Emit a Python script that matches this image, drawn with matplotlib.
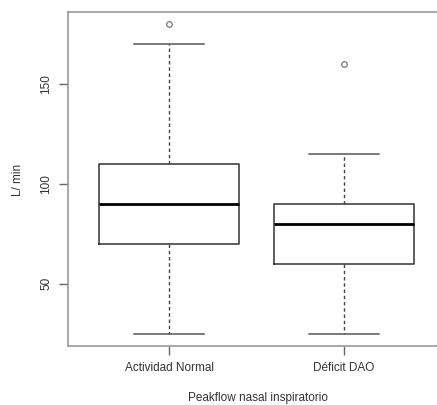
import matplotlib
matplotlib.use("Agg")
import matplotlib.pyplot as plt

# boxplot summary values (L/min)
groups = ["Actividad Normal", "Déficit DAO"]
whisker_low = [25, 25]
q1 = [70, 60]
median = [90, 80]
q3 = [110, 90]
whisker_high = [170, 115]
outliers = [[180], [160]]
yticks = [50, 100, 150]

plt.rcParams["font.family"] = ["Liberation Sans", "DejaVu Sans"]

fig = plt.figure(figsize=(4.37, 4.05), dpi=100)
# right edge of the R plot region falls just outside the image
ax = fig.add_axes([68 / 437, 59 / 405, (445 - 68) / 437, (393 - 59) / 405])

stats = []
for i in range(len(groups)):
    stats.append({
        "whislo": whisker_low[i], "q1": q1[i], "med": median[i],
        "q3": q3[i], "whishi": whisker_high[i], "fliers": outliers[i],
    })

ax.bxp(stats, positions=[1, 2], widths=0.8, showfliers=True,
       boxprops=dict(color="#333333", linewidth=1.1),
       medianprops=dict(color="black", linewidth=2.0),
       whiskerprops=dict(color="#444444", linewidth=1.0, linestyle=(0, (2.5, 2))),
       capprops=dict(color="#555555", linewidth=1.1),
       capwidths=0.4,
       flierprops=dict(marker="o", markersize=4, markerfacecolor="none",
                       markeredgecolor="#777777", markeredgewidth=0.9))

ax.set_xlim(0.42, 2.58)
ax.set_ylim(18.8, 186.2)
ax.set_yticks(yticks)
ax.set_yticklabels([str(v) for v in yticks], rotation=90, va="center")
ax.set_xticks([1, 2])
ax.set_xticklabels(groups)

for s in ax.spines.values():
    s.set_color("#9a9a9a")
    s.set_linewidth(1.2)

ax.tick_params(axis="both", direction="out", length=6.5, width=1.0,
               color="#666666", labelsize=8.5, labelcolor="#333333")
ax.tick_params(axis="x", pad=5)
ax.tick_params(axis="y", pad=5)

fig.text(18 / 437, 1 - 180 / 405, "L/ min", rotation=90, ha="center", va="center",
         fontsize=8.5, color="#333333")
fig.text(258 / 437, 1 - 398 / 405, "Peakflow nasal inspiratorio", ha="center",
         va="center", fontsize=8.5, color="#333333")

fig.savefig("out.png", dpi=100)
